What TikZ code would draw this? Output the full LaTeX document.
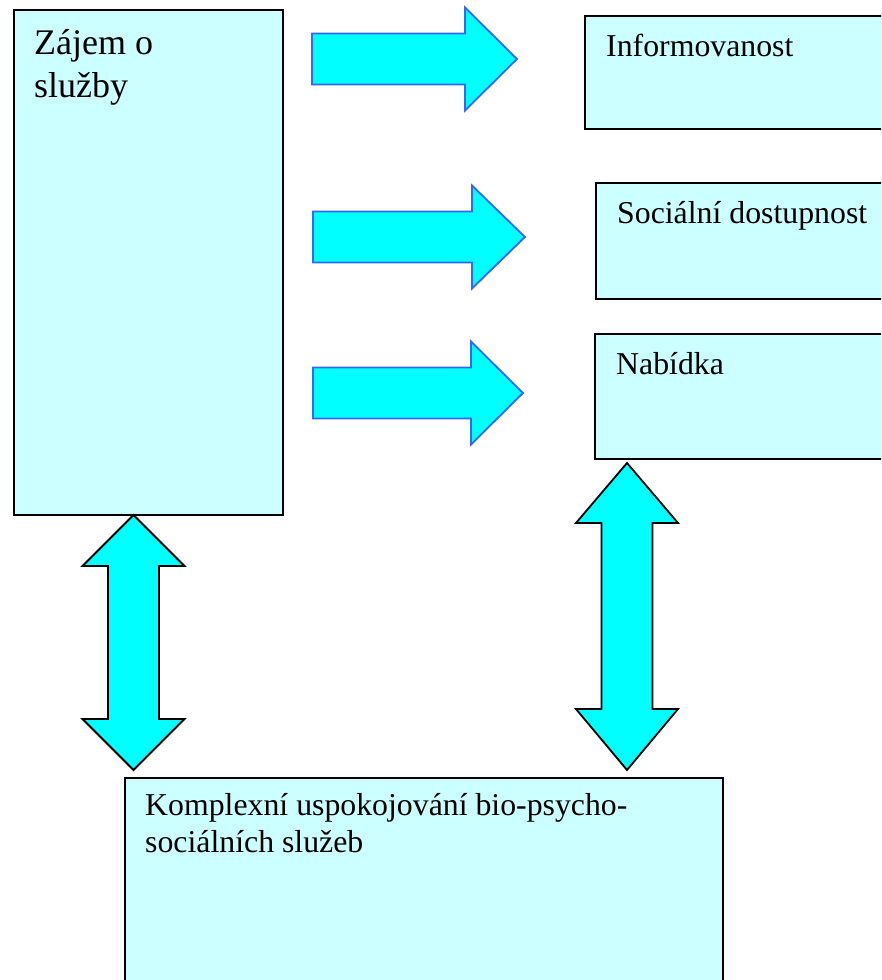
\documentclass[tikz,border=0pt]{standalone}
\usepackage{fontspec}
\setmainfont{Liberation Serif}
\usepackage{tikz}

\definecolor{boxfill}{HTML}{CCFFFF}
\definecolor{arrowfill}{HTML}{00FFFF}
\definecolor{arrowline}{HTML}{3366FF}

\begin{document}
\begin{tikzpicture}[x=1pt, y=-1pt,
    box/.style={draw=black, line width=1.8pt, fill=boxfill, inner sep=0pt, anchor=north west},
    txt/.style={inner sep=0pt, anchor=base west, align=left, font=\fontsize{31.8}{36.5}\selectfont},
    fatright/.style={draw=arrowline, line width=1.8pt, fill=arrowfill, line join=miter},
    fatboth/.style={draw=black, line width=1.8pt, fill=arrowfill, line join=miter}]

  % page frame (image is cut on the right and at the bottom)
  \useasboundingbox (0,0) rectangle (881,980);
  \clip (0,0) rectangle (881,980);

  % boxes
  \node[box, minimum width=269pt, minimum height=505pt] (zajem) at (13,9) {};
  \node[box, minimum width=320pt, minimum height=113pt] (info)  at (584,15) {};
  \node[box, minimum width=310pt, minimum height=116pt] (soc)   at (595,182) {};
  \node[box, minimum width=310pt, minimum height=125pt] (nab)   at (594,333) {};
  \node[box, minimum width=598pt, minimum height=230pt] (kompl) at (124,777) {};

  % texts (base of a two-line node = baseline of its last line)
  \node[txt, font=\fontsize{36}{43}\selectfont] (zajemtxt) at (34,97) {Zájem o\\služby};
  \node[txt] (infotxt) at (606,56)  {Informovanost};
  \node[txt] (soctxt)  at (617,223) {Sociální dostupnost};
  \node[txt] (nabtxt)  at (616,374) {Nabídka};
  \node[txt] (kompltxt) at (145,852) {Komplexní uspokojování bio-psycho-\\sociálních služeb};

  % block arrows to the right (x0 / head start / tip / middle y)
  \foreach \xa/\xb/\xc/\ym in {312/465/517/59, 313/472/525/237, 313/471/523/393}
    \draw[fatright] (\xa,\ym-25.5) -- (\xb,\ym-25.5) -- (\xb,\ym-51.5) -- (\xc,\ym)
      -- (\xb,\ym+51.5) -- (\xb,\ym+25.5) -- (\xa,\ym+25.5) -- cycle;

  % double arrows (centre x / top tip / top shoulder / bottom shoulder / bottom tip)
  \foreach \xm/\ya/\yb/\yc/\yd in {133.5/515/566/719/770, 627/463/523/709/770}
    \draw[fatboth] (\xm,\ya) -- (\xm+51,\yb) -- (\xm+25.5,\yb) -- (\xm+25.5,\yc)
      -- (\xm+51,\yc) -- (\xm,\yd) -- (\xm-51,\yc) -- (\xm-25.5,\yc)
      -- (\xm-25.5,\yb) -- (\xm-51,\yb) -- cycle;

\end{tikzpicture}
\end{document}
